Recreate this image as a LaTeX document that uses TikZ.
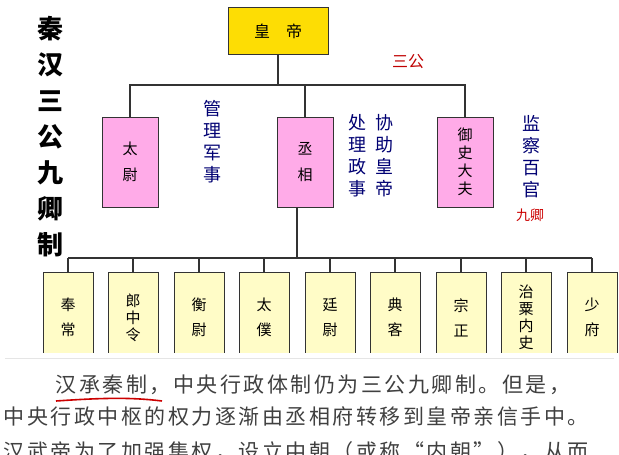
\documentclass[tikz,border=0pt]{standalone}
\usepackage{fontspec}
\newfontfamily\cjk{Noto Sans CJK SC}
\newfontfamily\cjkp[LetterSpace=12]{Noto Sans CJK SC}
\newfontfamily\cjkb{Noto Sans CJK SC Black}
\begin{document}
\begin{tikzpicture}[x=1pt,y=-1pt,
  ln/.style={line width=1.2pt,draw=black!80},
  pinkbox/.style={draw=black!80,line width=1pt,fill=pink!60!magenta!60,minimum width=56pt,minimum height=90pt,font=\cjk\fontsize{15}{18}\selectfont,align=center},
  qing/.style={draw=black!80,line width=1pt,fill=yellow!22,minimum width=50pt,minimum height=90pt,anchor=north,font=\cjk\fontsize{15}{17}\selectfont,align=center},
  vtxt/.style={font=\cjk\fontsize{18}{22}\selectfont,text=blue!45!black,align=center},
  para/.style={font=\cjkp\fontsize{21}{30}\selectfont,text=black!75,anchor=west}]
\useasboundingbox[fill=white] (0,0) rectangle (619,455);
\begin{scope}
\clip (0,0) rectangle (619,352);
\node[draw=black!80,line width=1pt,fill=yellow!80!orange,minimum width=100pt,minimum height=47pt,font=\cjk\fontsize{16}{18}\selectfont] (emp) at (278,31) {皇\quad 帝};
\node[pinkbox] (tw) at (130,162) {太\\[8pt]尉};
\node[pinkbox] (cx) at (305,162) {丞\\[8pt]相};
\node[pinkbox] (ys) at (465,162) {御\\史\\大\\夫};
\coordinate (h1) at (278,85);
\draw[ln] (emp.south) -- (h1);
\draw[ln] (tw.north) |- (h1) -| (ys.north);
\draw[ln] (cx.north) -- (cx.north |- h1);
\coordinate (h2) at (297,258);
\draw[ln] (cx.south -| h2) -- (h2);
\foreach \n/\x/\t in {q1/68/奉\\[8pt]常,q2/133/郎\\中\\令,q3/199/衡\\[8pt]尉,q4/264/太\\[8pt]僕,q5/330/廷\\[8pt]尉,q6/395/典\\[8pt]客,q7/461/宗\\[8pt]正,q8/526/治\\粟\\内\\史,q9/592/少\\[8pt]府}{
  \node[qing] (\n) at (\x,272) {\t};
  \draw[ln] (\n.north) -- (\x,258);
}
\draw[ln] (q1.north |- h2) -- (q9.north |- h2);
\end{scope}
\node[font=\cjkb\fontsize{26}{36}\selectfont,align=center] (title) at (50,137) {秦\\汉\\三\\公\\九\\卿\\制};
\node[font=\cjk\fontsize{16}{18}\selectfont,text=red!75!black] (sg) at (408,62) {三公};
\node[vtxt] (t1) at (212,142) {管\\理\\军\\事};
\node[vtxt] (t2) at (357,156) {处\\理\\政\\事};
\node[vtxt] (t3) at (384,156) {协\\助\\皇\\帝};
\node[vtxt] (t4) at (531,157) {监\\察\\百\\官};
\node[font=\cjk\fontsize{14}{16}\selectfont,text=red!80!black] (jq) at (530,215) {九卿};
\draw[black!10] (5,358) -- (614,358);
\node[para] (p1) at (52,385) {汉承秦制，中央行政体制仍为三公九卿制。但是，};
\node[para] (p2) at (0,416) {中央行政中枢的权力逐渐由丞相府转移到皇帝亲信手中。};
\node[para] (p3) at (0,452) {汉武帝为了加强集权，设立中朝（或称“内朝”），从而};
\draw[red!80!black,line width=1.6pt] (56,401) .. controls (100,398) and (130,397) .. (162,401);
\end{tikzpicture}
\end{document}
